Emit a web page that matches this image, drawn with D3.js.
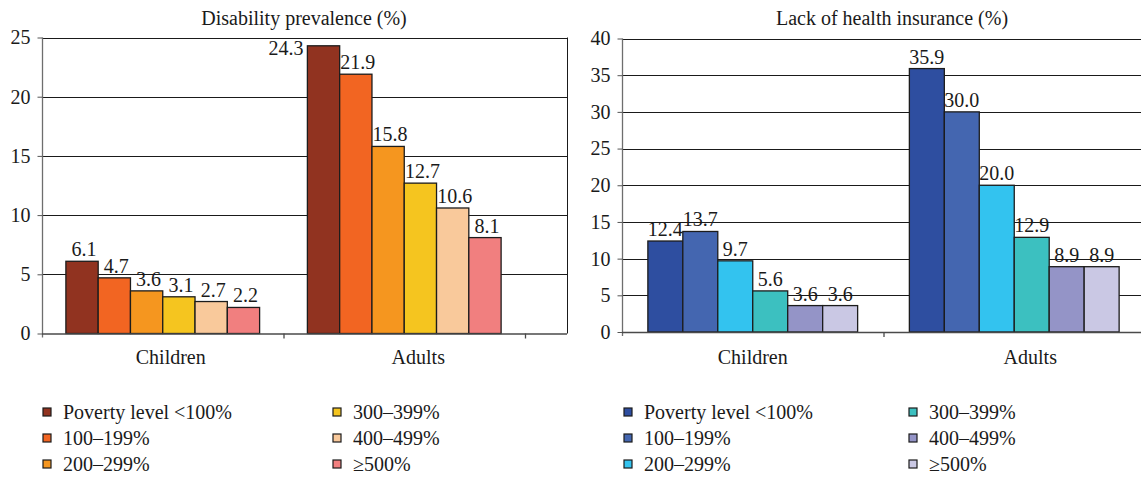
<!DOCTYPE html>
<html>
<head>
<meta charset="utf-8">
<script src="https://cdn.jsdelivr.net/npm/d3@7"></script>
<style>
  html, body { margin: 0; padding: 0; background: #fff; }
  svg text { font-family: "Liberation Serif", "DejaVu Serif", serif; fill: #1a1a1a; }
</style>
</head>
<body>
<svg id="chart" width="1141" height="478"></svg>
<script>
// Age groups on the x axis
const categories = ["Children", "Adults"];
// Income relative to the federal poverty level
const povertyGroups = ["Poverty level <100%", "100\u2013199%", "200\u2013299%", "300\u2013399%", "400\u2013499%", "\u2265500%"];

// Disability prevalence (%)
const disabilityChildren = [6.1, 4.7, 3.6, 3.1, 2.7, 2.2];
const disabilityAdults = [24.3, 21.9, 15.8, 12.7, 10.6, 8.1];
const disabilityTicks = [0, 5, 10, 15, 20, 25];
const disabilityColors = ["#913320", "#f26522", "#f5961f", "#f5c51f", "#f9c99b", "#f17f7f"];

// Lack of health insurance (%)
const uninsuredChildren = [12.4, 13.7, 9.7, 5.6, 3.6, 3.6];
const uninsuredAdults = [35.9, 30.0, 20.0, 12.9, 8.9, 8.9];
const uninsuredTicks = [0, 5, 10, 15, 20, 25, 30, 35, 40];
const uninsuredColors = ["#2e4ea0", "#4466b0", "#33c3ef", "#3cc0c0", "#9494c7", "#cac8e4"];

const svg = d3.select("#chart");

function drawPanel(opt) {
  const g = svg.append("g");
  const rows = categories.map((c, i) => ({ category: c, values: [opt.children, opt.adults][i] }));

  const y = d3.scaleLinear()
    .domain([0, d3.max(opt.ticks)])
    .range([opt.bottom, opt.top]);

  const x0 = d3.scaleBand().domain(categories).range([opt.left, opt.bandEnd]).padding(0);
  const x1 = d3.scaleBand().domain(povertyGroups).range([0, x0.bandwidth()])
    .paddingInner(0).paddingOuter(0.74);

  // title
  g.append("text")
    .attr("x", opt.titleX).attr("y", 25)
    .attr("text-anchor", "middle")
    .style("font-size", "20px")
    .text(opt.title);

  // horizontal gridlines
  g.selectAll("line.grid")
    .data(opt.ticks.filter(t => t > 0))
    .join("line")
    .attr("class", "grid")
    .attr("x1", opt.left).attr("x2", opt.right)
    .attr("y1", d => Math.round(y(d)) + 0.5).attr("y2", d => Math.round(y(d)) + 0.5)
    .attr("stroke", "#1a1a1a").attr("stroke-width", 1);

  // right frame line
  if (opt.right < 1141) {
    g.append("line")
      .attr("x1", opt.right + 0.5).attr("x2", opt.right + 0.5)
      .attr("y1", y(d3.max(opt.ticks))).attr("y2", opt.bottom)
      .attr("stroke", "#1a1a1a").attr("stroke-width", 1);
  }

  // bars
  const groups = g.selectAll("g.cat")
    .data(rows)
    .join("g")
    .attr("class", "cat")
    .attr("transform", d => `translate(${x0(d.category)},0)`);

  groups.selectAll("rect")
    .data(d => d.values.map((v, i) => ({ key: povertyGroups[i], value: v, i })))
    .join("rect")
    .attr("x", d => x1(d.key))
    .attr("y", d => y(d.value))
    .attr("width", x1.bandwidth())
    .attr("height", d => opt.bottom - y(d.value))
    .attr("fill", d => opt.colors[d.i])
    .attr("stroke", "#1c1c1c")
    .attr("stroke-width", 1.3);

  // value labels
  groups.selectAll("text.val")
    .data(d => d.values.map((v, i) => ({ key: povertyGroups[i], value: v, i })))
    .join("text")
    .attr("class", "val")
    .style("font-size", "20px")
    .each(function (d) {
      const t = d3.select(this);
      const top = y(d.value);
      if (top - 20 < opt.top) {
        // no room above the frame: set the label beside the bar
        t.attr("x", x1(d.key) - 4).attr("y", top + 9).attr("text-anchor", "end");
      } else {
        t.attr("x", x1(d.key) + x1.bandwidth() / 2 + opt.labelShift)
          .attr("y", top - 5).attr("text-anchor", "middle");
      }
    })
    .text(d => d.value.toFixed(1));

  // y axis
  const yAxis = g.append("g")
    .attr("transform", `translate(${opt.left + 0.5},0)`)
    .call(d3.axisLeft(y).tickValues(opt.ticks).tickSize(5).tickPadding(7).tickFormat(d3.format("d")));
  yAxis.select(".domain").attr("stroke", "#6e6e6e").attr("stroke-width", 1.3)
    .attr("d", `M0,${opt.top}V${opt.bottom + 4}`);
  yAxis.selectAll(".tick line").attr("stroke", "#555");
  yAxis.selectAll(".tick text").style("font-size", "20px").style("font-family", "Liberation Serif").attr("fill", "#1a1a1a");

  // x axis baseline and category ticks
  g.append("line")
    .attr("x1", opt.left).attr("x2", Math.min(opt.right, 1141))
    .attr("y1", opt.bottom + 0.5).attr("y2", opt.bottom + 0.5)
    .attr("stroke", "#4a4a4a").attr("stroke-width", 1.5);
  const edges = [opt.left].concat(categories.map(c => x0(c) + x0.bandwidth()));
  g.selectAll("line.xtick")
    .data(edges.slice(1))
    .join("line")
    .attr("class", "xtick")
    .attr("x1", d => d + 0.5).attr("x2", d => d + 0.5)
    .attr("y1", opt.bottom).attr("y2", opt.bottom + 5)
    .attr("stroke", "#4a4a4a").attr("stroke-width", 1.3);

  g.selectAll("text.cat")
    .data(categories)
    .join("text")
    .attr("class", "cat")
    .attr("x", (d, i) => x0(d) + x0.bandwidth() / 2 + opt.catShift[i])
    .attr("y", 364)
    .attr("text-anchor", "middle")
    .style("font-size", "20px")
    .text(d => d);

  // legend: two columns of three
  const lg = g.append("g");
  const items = lg.selectAll("g.item")
    .data(povertyGroups)
    .join("g")
    .attr("class", "item")
    .attr("transform", (d, i) => `translate(${opt.legendX[Math.floor(i / 3)]},${419 + (i % 3) * 26})`);
  items.append("rect")
    .attr("x", 0).attr("y", -11).attr("width", 8).attr("height", 8)
    .attr("fill", (d, i) => opt.colors[i])
    .attr("stroke", "#1c1c1c").attr("stroke-width", 1.2);
  items.append("text")
    .attr("x", 20).attr("y", 0)
    .style("font-size", "20px")
    .text(d => d);
}

drawPanel({
  title: "Disability prevalence (%)", titleX: 304,
  children: disabilityChildren, adults: disabilityAdults,
  ticks: disabilityTicks, colors: disabilityColors,
  left: 42, bandEnd: 525, right: 567, top: 37.5, bottom: 333.5,
  labelShift: 2, catShift: [8, 14], legendX: [43, 333]
});

drawPanel({
  title: "Lack of health insurance (%)", titleX: 892,
  children: uninsuredChildren, adults: uninsuredAdults,
  ticks: uninsuredTicks, colors: uninsuredColors,
  left: 622, bandEnd: 1145, right: 1160, top: 38.5, bottom: 332,
  labelShift: 0, catShift: [0, 16], legendX: [624, 909]
});
</script>
</body>
</html>
